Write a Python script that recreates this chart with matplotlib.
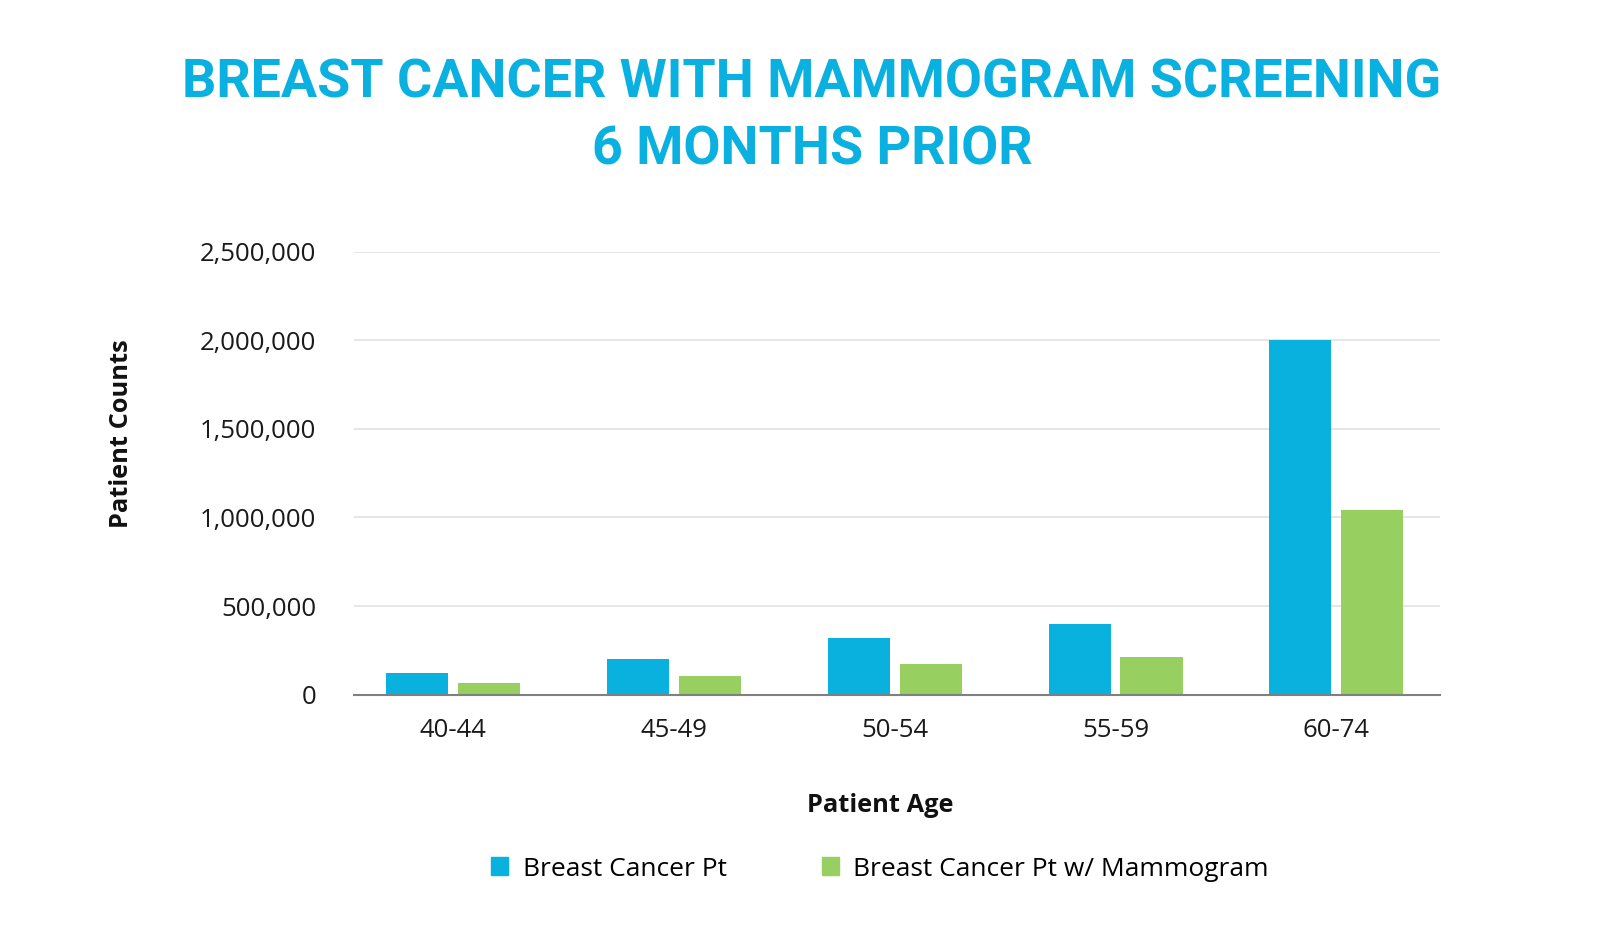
import matplotlib
matplotlib.use("Agg")
import matplotlib.pyplot as plt
from matplotlib.patches import Patch
from matplotlib.ticker import FuncFormatter
import numpy as np

# data
age_groups = ["40-44", "45-49", "50-54", "55-59", "60-74"]
cancer_pt = [123000, 201000, 320000, 399000, 2000000]
cancer_pt_mammo = [66000, 105000, 172000, 212000, 1043000]
y_ticks = [0, 500000, 1000000, 1500000, 2000000, 2500000]

blue = "#08B1DE"
green = "#97CF60"
title_color = "#0AB1E0"

plt.rcParams["font.family"] = ["Open Sans", "DejaVu Sans"]

fig = plt.figure(figsize=(16, 9.36), dpi=100)
ax = fig.add_axes([0.22125, 0.258, 0.67875, 0.4728])

x = np.arange(len(age_groups))
w = 0.281
ax.bar(x - 0.163, cancer_pt, width=w, color=blue, zorder=3)
ax.bar(x + 0.163, cancer_pt_mammo, width=w, color=green, zorder=3)

ax.set_xlim(-0.45, 4.47)
ax.set_ylim(0, 2500000)
ax.set_yticks(y_ticks)
ax.yaxis.set_major_formatter(FuncFormatter(lambda v, p: f"{int(v):,}"))
ax.set_xticks(x)
ax.set_xticklabels(age_groups)

ax.grid(axis="y", color="#e6e6e6", linewidth=1.4, zorder=0)
for s in ["top", "right", "left"]:
    ax.spines[s].set_visible(False)
ax.spines["bottom"].set_color("#808080")
ax.spines["bottom"].set_linewidth(1.5)
ax.spines["bottom"].set_zorder(4)
ax.tick_params(axis="both", length=0, labelsize=18.5, colors="#1a1a1a")
ax.tick_params(axis="y", pad=27)
ax.tick_params(axis="x", pad=17)

fig.text(0.55, 1 - 806 / 936, "Patient Age", ha="center", va="center",
         fontsize=18.3, fontweight="bold", color="#111111")
fig.text(122 / 1600, 1 - 434 / 936, "Patient Counts", ha="center", va="center",
         rotation=90, fontsize=18.3, fontweight="bold", color="#111111")

fig.text(812 / 1600, 1 - 83 / 936, "BREAST CANCER WITH MAMMOGRAM SCREENING",
         ha="center", va="center", fontsize=38.8, fontweight="bold",
         color=title_color, family=["Roboto", "DejaVu Sans"])
fig.text(812 / 1600, 1 - 150 / 936, "6 MONTHS PRIOR",
         ha="center", va="center", fontsize=38.8, fontweight="bold",
         color=title_color, family=["Roboto", "DejaVu Sans"])

handles = [Patch(color=blue, label="Breast Cancer Pt"),
           Patch(color=green, label="Breast Cancer Pt w/ Mammogram")]
fig.legend(handles=handles, loc="center", bbox_to_anchor=(0.55, 1 - 869 / 936),
           ncol=2, frameon=False, fontsize=19, handlelength=0.65, handleheight=0.65,
           handletextpad=0.55, columnspacing=3.6)

fig.savefig("out.png", dpi=100)
